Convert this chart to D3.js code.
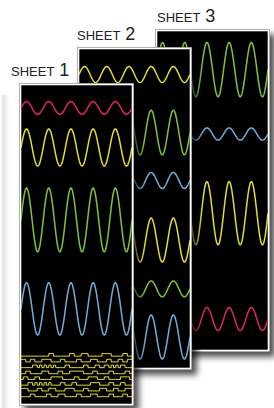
<!DOCTYPE html>
<html>
<head>
<meta charset="utf-8">
<script src="https://cdnjs.cloudflare.com/ajax/libs/d3/7.8.5/d3.min.js"></script>
<style>
body{margin:0;background:#fff;}
svg{display:block;}
</style>
</head>
<body>
<svg width="274" height="408"></svg>
<script>
// ---- data ----
var sheetNames = ["SHEET", "SHEET", "SHEET"];
var sheetNums = ["1", "2", "3"];
var cycles = 5;

// one entry per trace : sheet, channel, level and amplitude (% of sheet height)
var waveSheet = [0, 0, 0, 0, 1, 1, 1, 1, 1, 1, 2, 2, 2, 2];
var waveChan  = ["red", "yellow", "green", "blue", "yellow", "green", "blue", "yellow", "green", "blue", "green", "blue", "yellow", "red"];
var waveLevel = [7.2, 19.6, 42.3, 70.2, 8, 26.2, 41.2, 59.9, 75.2, 90.3, 12.1, 32.3, 57.1, 90.3];
var waveAmp   = [2, 5.8, 10, 8.2, 2.5, 7, 2.5, 6.9, 2.5, 6.9, 8.5, 1.9, 9.9, 3.6];

// logic bus on sheet 1
var busLevel = [85, 86.8, 88.6, 90.5, 92.3, 94.1, 95.9, 97.7];
var busBits = [
  "000000000000110000000110001110000001111000001100",
  "110011000111100001100000110000111000011000110011",
  "000001101010101000011000000110001100110101011000",
  "001100000111000011000111111000011000001100000110",
  "011000110000011111000001100001111000110000011110",
  "000110101010100001100011000000111100001100011000",
  "111000011000111000011110000110000011100011000111",
  "000011000001100011100000110000111000001100001100"
];

// ---- layout ----
var W = 111, H = 319;
var boxes = [{x: 21, y: 85}, {x: 79, y: 49}, {x: 157, y: 31}];
var labelX = [11, 77, 157];

var color = d3.scaleOrdinal()
  .domain(["red", "yellow", "green", "blue"])
  .range(["#de2463", "#e3dc35", "#83c040", "#74acd8"]);

var svg = d3.select("svg");
var defs = svg.append("defs");

// soft drop shadow
var f = defs.append("filter").attr("id", "shadow")
  .attr("x", "-10%").attr("y", "-10%").attr("width", "130%").attr("height", "130%");
f.append("feGaussianBlur").attr("in", "SourceAlpha").attr("stdDeviation", 3).attr("result", "b");
f.append("feOffset").attr("in", "b").attr("dx", 5).attr("dy", 5).attr("result", "o");
f.append("feComponentTransfer").attr("in", "o").attr("result", "s")
  .append("feFuncA").attr("type", "linear").attr("slope", 0.7);
var m = f.append("feMerge");
m.append("feMergeNode").attr("in", "s");
m.append("feMergeNode").attr("in", "SourceGraphic");

// faint shade at the left edge
var g0 = defs.append("linearGradient").attr("id", "edge");
g0.append("stop").attr("offset", "0").attr("stop-color", "#fff");
g0.append("stop").attr("offset", "0.4").attr("stop-color", "#e2e2e2");
g0.append("stop").attr("offset", "1").attr("stop-color", "#fff");
svg.append("rect").attr("x", 0).attr("y", 95).attr("width", 9).attr("height", 313)
  .attr("fill", "url(#edge)");

var t = d3.range(0, cycles + 0.0001, 0.02);

// draw back to front : sheet 3, 2, 1
[2, 1, 0].forEach(function(i) {
  var b = boxes[i];
  var x = d3.scaleLinear().domain([0, cycles]).range([b.x, b.x + W]);
  var y = d3.scaleLinear().domain([0, 100]).range([b.y, b.y + H]);

  var g = svg.append("g");

  defs.append("clipPath").attr("id", "clip" + i)
    .append("rect").attr("x", b.x).attr("y", b.y).attr("width", W).attr("height", H);

  g.append("rect")
    .attr("x", b.x - 1.5).attr("y", b.y - 1.5)
    .attr("width", W + 3).attr("height", H + 3)
    .attr("fill", "#000")
    .attr("stroke", "#9a9a9a").attr("stroke-width", 0.8)
    .attr("filter", "url(#shadow)");
  g.append("rect")
    .attr("x", b.x - 0.5).attr("y", b.y - 0.5)
    .attr("width", W + 1).attr("height", H + 1)
    .attr("fill", "#000")
    .attr("stroke", "#fff").attr("stroke-width", 1.6);

  var lines = g.append("g").attr("clip-path", "url(#clip" + i + ")");

  waveSheet.forEach(function(s, k) {
    if (s !== i) return;
    var line = d3.line()
      .x(function(d) { return x(d); })
      .y(function(d) { return y(waveLevel[k] - waveAmp[k] * Math.sin(2 * Math.PI * d)); });
    lines.append("path")
      .attr("d", line(t))
      .attr("fill", "none")
      .attr("stroke", color(waveChan[k]))
      .attr("stroke-width", 1.5);
  });

  if (i === 0) {
    busBits.forEach(function(bits, k) {
      var arr = bits.split("").map(Number);
      arr.push(arr[arr.length - 1]);
      var bx = d3.scaleLinear().domain([0, arr.length - 1]).range([b.x, b.x + W]);
      var line = d3.line().curve(d3.curveStepAfter)
        .x(function(d, j) { return bx(j); })
        .y(function(d) { return y(busLevel[k] - d * 0.8); });
      lines.append("path")
        .attr("d", line(arr))
        .attr("fill", "none")
        .attr("stroke", color("yellow"))
        .attr("stroke-width", 1);
    });
  }

  var lab = svg.append("text")
    .attr("x", labelX[i]).attr("y", b.y - 9)
    .attr("font-family", "Liberation Sans, Arial, sans-serif")
    .attr("fill", "#222");
  lab.append("tspan").attr("font-size", 13).text(sheetNames[i]);
  lab.append("tspan").attr("dx", 5).attr("font-size", 18).text(sheetNums[i]);
});
</script>
</body>
</html>
